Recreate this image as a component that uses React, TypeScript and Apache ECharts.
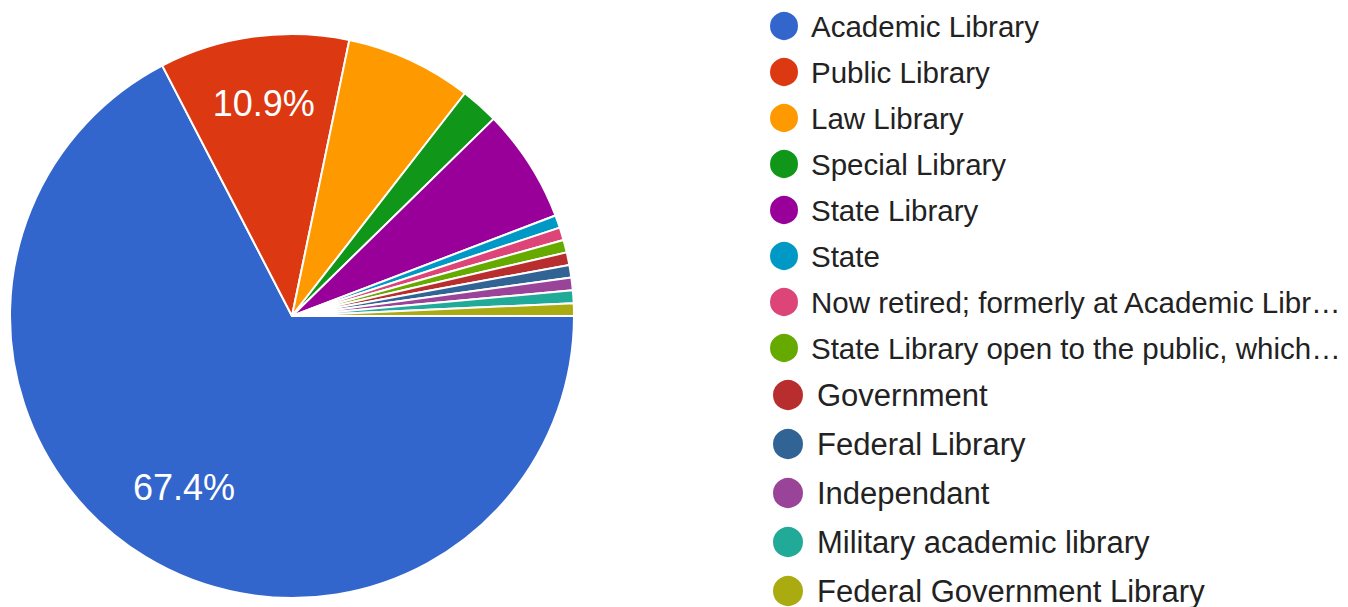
import React, { useEffect, useRef } from "react";
import * as echarts from "echarts";

const categories = [
  "Academic Library",
  "Public Library",
  "Law Library",
  "Special Library",
  "State Library",
  "State",
  "Now retired; formerly at Academic Libr…",
  "State Library open to the public, which…",
  "Government",
  "Federal Library",
  "Independant",
  "Military academic library",
  "Federal Government Library",
];
const counts = [93, 15, 10, 3, 9, 1, 1, 1, 1, 1, 1, 1, 1];
const colors = [
  "#3366cc", "#dc3912", "#ff9900", "#109618", "#990099", "#0099c6",
  "#dd4477", "#66aa00", "#b82e2e", "#316395", "#994499", "#22aa99", "#aaaa11",
];
const labelled = [true, true, false, false, false, false, false, false, false, false, false, false, false];

export default function App() {
  const ref = useRef<HTMLDivElement>(null);
  useEffect(() => {
    document.body.style.margin = "0";
    const chart = echarts.init(ref.current!, null, { renderer: "svg" });
    const data = categories.map((name, i) => ({
      name,
      value: counts[i],
      itemStyle: { color: colors[i] },
    }));
    const labelData = categories.map((name, i) => ({
      name,
      value: counts[i],
      itemStyle: { color: colors[i] },
      label: { show: labelled[i] },
    }));
    const font = "'Liberation Sans', Arial, sans-serif";
    chart.setOption({
      animation: false,
      color: colors,
      legend: [
        {
          data: categories.slice(0, 8),
          orient: "vertical",
          left: 768,
          top: 10,
          height: 400,
          padding: 0,
          icon: "circle",
          itemWidth: 30,
          itemHeight: 30,
          itemGap: 14,
          selectedMode: false,
          textStyle: {
            fontFamily: font,
            fontSize: 29.5,
            color: "#222222",
            lineHeight: 30,
            padding: [0, 0, 0, 7],
          },
        },
        {
          data: categories.slice(8),
          orient: "vertical",
          left: 771,
          top: 378,
          height: 300,
          padding: 0,
          icon: "circle",
          itemWidth: 32,
          itemHeight: 32,
          itemGap: 15,
          selectedMode: false,
          textStyle: {
            fontFamily: font,
            fontSize: 31,
            color: "#222222",
            lineHeight: 32,
            padding: [0, 0, 0, 8],
          },
        },
      ],
      series: [
        {
          type: "pie",
          center: [292, 316],
          radius: [0, 282],
          startAngle: 0,
          clockwise: true,
          silent: true,
          label: { show: false },
          labelLine: { show: false },
          itemStyle: { borderColor: "#ffffff", borderWidth: 2 },
          data,
        },
        {
          type: "pie",
          center: [292, 310],
          radius: [128, 282],
          startAngle: 0,
          clockwise: true,
          silent: true,
          itemStyle: { opacity: 0 },
          labelLine: { show: false },
          label: {
            show: true,
            position: "inside",
            formatter: (p: any) => p.percent.toFixed(1) + "%",
            color: "#ffffff",
            fontFamily: font,
            fontSize: 36,
            opacity: 1,
          },
          data: labelData,
        },
      ],
    });
    return () => chart.dispose();
  }, []);
  return <div ref={ref} style={{ width: 1348, height: 607 }} />;
}
